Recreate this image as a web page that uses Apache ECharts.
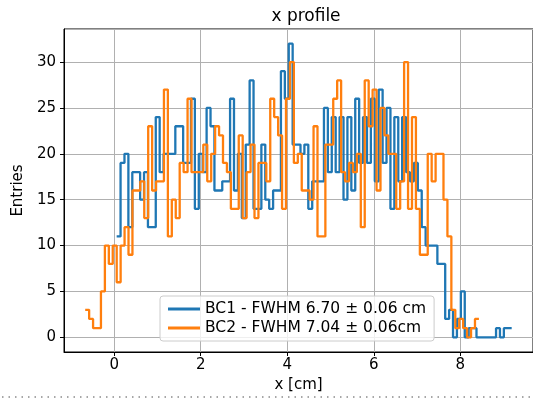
<!DOCTYPE html>
<html>
<head>
<meta charset="utf-8">
<script src="https://cdn.jsdelivr.net/npm/echarts@6/dist/echarts.min.js"></script>
<style>
  html, body { margin: 0; padding: 0; background: #fff; }
  #chartContainer { width: 533px; height: 402px; }
</style>
</head>
<body>
<div id="chartContainer"></div>
<script>
// histogram bins: first edge + bin width (cm), counts per bin
const bc1Start = 0.057;
const bc1Width = 0.0904;
const bc1Counts = [11,
    19, 20, 12, 18, 18, 15,
    18, 12, 12, 24, 18, 20, 20, 20, 23, 23, 19, 19, 26, 14, 20, 18,
    25, 23, 16, 16, 17, 17, 26, 16, 20, 13, 21, 28, 14, 14, 21, 15,
    14, 16, 16, 29, 26, 32, 21, 21, 20, 21, 14, 17, 17, 17, 25, 18,
    24, 18, 24, 15, 24, 16, 26, 19, 24, 19, 26, 17, 27, 19, 25, 14,
    24, 17, 24, 18, 17, 19, 16, 12, 10, 10, 10, 8, 8, 2, 3, 0,
    2, 5, 0, 1, 1, 0, 0, 0, 0, 0, 1, 0, 1, 1];

const bc2Start = -0.67;
const bc2Width = 0.091;
const bc2Counts = [
    3, 2, 1, 1, 5, 10, 8, 10, 6, 10, 12, 9, 16, 16, 17,
    13, 23, 16, 17, 17, 27, 11, 15, 13, 19, 18, 26, 18, 18, 18, 21,
    17, 20, 23, 22, 19, 18, 14, 14, 22, 13, 18, 21, 13, 19, 19,
    17, 26, 24, 22, 14, 26, 30, 19, 20, 16, 16, 15, 23, 11, 11, 21, 21,
    26, 28, 18, 17, 19, 18, 20, 12, 28, 23, 27, 16, 25, 22, 20,
    20, 14, 17, 30, 14, 24, 14, 9, 9, 20, 17, 20, 20, 15, 11, 3, 1, 2, 1, 0, 1, 2];

const seriesNames = ['BC1 - FWHM 6.70 \u00b1 0.06 cm', 'BC2 - FWHM 7.04 \u00b1 0.06cm'];
const seriesColors = ['#1f77b4', '#ff7f0e'];

const FONT = 'DejaVu Sans';

// step outline points: left edge of each bin, plus the closing right edge
function stepPoints(start, width, counts) {
    const pts = counts.map((c, i) => [start + i * width, c]);
    pts.push([start + counts.length * width, counts[counts.length - 1]]);
    return pts;
}

const myChart = echarts.init(document.getElementById('chartContainer'));

const option = {
    animation: false,
    backgroundColor: '#fff',
    title: {
        text: 'x profile',
        left: 301,
        textAlign: 'center',
        top: 3,
        textStyle: { fontFamily: FONT, fontSize: 17, fontWeight: 'normal', color: '#000' }
    },
    grid: {
        left: 64, top: 29, width: 474, height: 323,
        show: true, borderColor: '#000', borderWidth: 1, backgroundColor: 'transparent'
    },
    legend: {
        orient: 'vertical',
        left: 160,
        top: 296,
        padding: [5, 8, 5, 8],
        itemGap: 3,
        itemWidth: 32,
        itemHeight: 3,
        icon: 'rect',
        backgroundColor: 'rgba(255,255,255,0.8)',
        borderColor: '#cccccc',
        borderWidth: 1,
        borderRadius: 3,
        data: seriesNames,
        textStyle: { fontFamily: FONT, fontSize: 15.5, color: '#000' }
    },
    xAxis: {
        type: 'value',
        min: -1.16,
        max: 9.68,
        splitNumber: 5,
        minInterval: 2,
        maxInterval: 2,
        name: 'x [cm]',
        nameLocation: 'middle',
        nameGap: 25,
        nameTextStyle: { fontFamily: FONT, fontSize: 15, color: '#000' },
        axisLine: { onZero: false, lineStyle: { color: '#000', width: 1 } },
        axisTick: { show: true, length: 4, lineStyle: { color: '#000' } },
        axisLabel: { fontFamily: FONT, fontSize: 15, color: '#000', margin: 6, showMinLabel: false, showMaxLabel: false },
        splitLine: { show: true, lineStyle: { color: '#b0b0b0', width: 1 } }
    },
    yAxis: {
        type: 'value',
        min: -1.6,
        max: 33.6,
        splitNumber: 7,
        minInterval: 5,
        maxInterval: 5,
        name: 'Entries',
        nameLocation: 'middle',
        nameGap: 38,
        nameTextStyle: { fontFamily: FONT, fontSize: 15, color: '#000' },
        axisLine: { onZero: false, lineStyle: { color: '#000', width: 1 } },
        axisTick: { show: true, length: 4, lineStyle: { color: '#000' } },
        axisLabel: { fontFamily: FONT, fontSize: 15, color: '#000', margin: 8, showMinLabel: false, showMaxLabel: false },
        splitLine: { show: true, lineStyle: { color: '#b0b0b0', width: 1 } }
    },
    series: [
        {
            name: seriesNames[0],
            type: 'line',
            step: 'end',
            showSymbol: false,
            symbol: 'none',
            data: stepPoints(bc1Start, bc1Width, bc1Counts),
            lineStyle: { color: seriesColors[0], width: 2.3 },
            itemStyle: { color: seriesColors[0] }
        },
        {
            name: seriesNames[1],
            type: 'line',
            step: 'end',
            showSymbol: false,
            symbol: 'none',
            data: stepPoints(bc2Start, bc2Width, bc2Counts),
            lineStyle: { color: seriesColors[1], width: 2.3 },
            itemStyle: { color: seriesColors[1] }
        }
    ],
    graphic: [
        {
            type: 'line',
            shape: { x1: 2, y1: 397, x2: 533, y2: 397 },
            style: { stroke: '#8a8a8a', lineWidth: 1.3, lineDash: [1.5, 5] },
            silent: true
        }
    ]
};

myChart.setOption(option);
</script>
</body>
</html>
